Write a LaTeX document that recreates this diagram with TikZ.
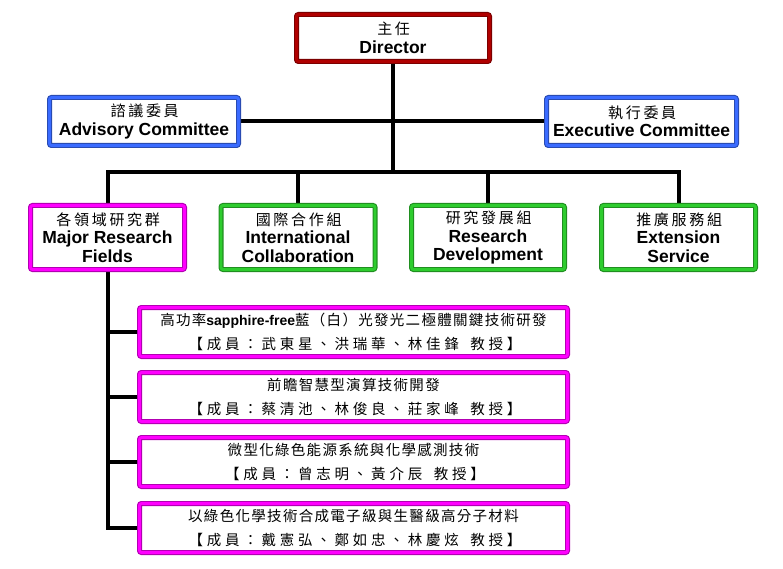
\documentclass[tikz,border=0pt]{standalone}
\usepackage{fontspec}
\setmainfont{Liberation Sans}
\newfontfamily\cjkT[LetterSpace=18]{Noto Sans CJK TC}
\newfontfamily\cjkS[LetterSpace=9]{Noto Sans CJK TC}
\newfontfamily\cjkM[LetterSpace=26]{Noto Sans CJK TC}
\usetikzlibrary{backgrounds}
\definecolor{cRed}{HTML}{B00000}
\definecolor{cBlue}{HTML}{3A6BFF}
\definecolor{cGreen}{HTML}{2ECC2E}
\definecolor{cMag}{HTML}{FF00FF}
\newcommand{\cjtop}[1]{{\fontsize{15}{19}\selectfont\mdseries\cjkT #1\kern-1.3pt}}
\newcommand{\cjsub}[1]{{\fontsize{14.5}{23}\selectfont\mdseries\cjkS #1}}
\newcommand{\cjmem}[1]{{\fontsize{14.5}{24}\selectfont\mdseries\cjkM #1\kern-3pt}}
\tikzset{
  orgbox/.style={rectangle, rounded corners=2pt, line width=1.1pt, double distance=2.8pt,
    draw=#1!70!black, double=#1, fill=white, align=center, inner sep=0pt,
    font=\fontsize{17.5}{18.5}\selectfont\bfseries},
  subbox/.style={orgbox=cMag, minimum width=428pt, minimum height=49pt,
    font=\fontsize{14}{24}\selectfont\bfseries},
  conn/.style={line width=4pt, draw=black}
}
\begin{document}
\begin{tikzpicture}[x=1pt,y=-1pt]
\useasboundingbox (0,0) rectangle (783,569);
\node[orgbox=cRed, minimum width=193pt, minimum height=47pt] (dir) at (393,38) {\cjtop{主任}\\Director};
\node[orgbox=cBlue, minimum width=189pt, minimum height=48pt] (adv) at (144,121.5) {\cjtop{諮議委員}\\Advisory Committee};
\node[orgbox=cBlue, minimum width=190pt, minimum height=48pt] (exe) at (641.5,121.5) {\cjtop{執行委員}\\Executive Committee};
\node[orgbox=cMag, minimum width=154pt, minimum height=64pt] (maj) at (107.5,237.5) {\cjtop{各領域研究群}\\Major Research\\Fields};
\node[orgbox=cGreen, minimum width=154pt, minimum height=64pt] (intl) at (298,237.5) {\cjtop{國際合作組}\\International\\Collaboration};
\node[orgbox=cGreen, minimum width=153pt, minimum height=64pt] (rd) at (488,237.5) {\cjtop{研究發展組}\\Research\\Development};
\node[orgbox=cGreen, minimum width=154pt, minimum height=64pt] (es) at (678.5,237.5) {\cjtop{推廣服務組}\\Extension\\Service};
\node[subbox] (s1) at (353.5,332) {\cjsub{高功率}sapphire-free\cjsub{藍（白）光發光二極體關鍵技術研發}\\\cjmem{【成員：武東星、洪瑞華、林佳鋒\hspace{0.8em}教授】}};
\node[subbox] (s2) at (353.5,397) {\cjsub{前瞻智慧型演算技術開發}\\\cjmem{【成員：蔡清池、林俊良、莊家峰\hspace{0.8em}教授】}};
\node[subbox] (s3) at (353.5,462) {\cjsub{微型化綠色能源系統與化學感測技術}\\\cjmem{【成員：曾志明、黃介辰\hspace{0.8em}教授】}};
\node[subbox] (s4) at (353.5,528) {\cjsub{以綠色化學技術合成電子級與生醫級高分子材料}\\\cjmem{【成員：戴憲弘、鄭如忠、林慶炫\hspace{0.8em}教授】}};
\coordinate (bus) at (393,172);
\begin{scope}[on background layer]
\draw[conn] (dir.south) -- (bus);
\draw[conn] (adv.east) -- (exe.west);
\draw[conn] (maj.north) |- (bus);
\draw[conn] (intl.north) |- (bus);
\draw[conn] (rd.north) |- (bus);
\draw[conn] (es.north) |- (bus);
\draw[conn] (maj.south) |- (s1.west);
\draw[conn] (maj.south) |- (s2.west);
\draw[conn] (maj.south) |- (s3.west);
\draw[conn] (maj.south) |- (s4.west);
\end{scope}
\end{tikzpicture}
\end{document}
